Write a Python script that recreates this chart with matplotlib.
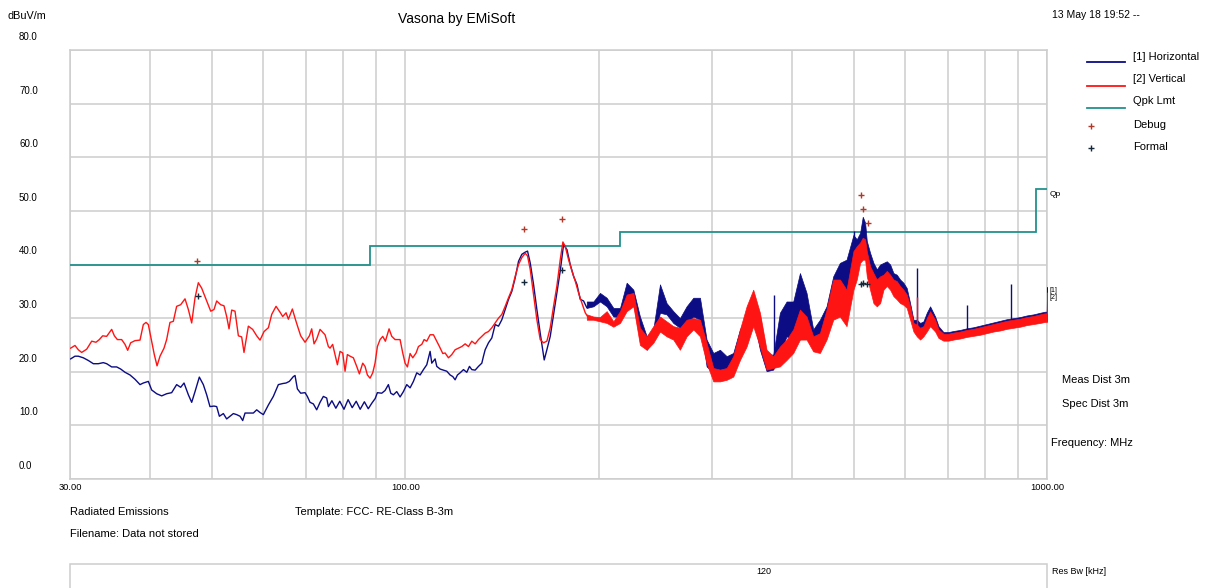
import matplotlib
matplotlib.use('Agg')
import matplotlib.pyplot as plt
from matplotlib.lines import Line2D
from matplotlib.patches import Rectangle
from matplotlib.transforms import blended_transform_factory, offset_copy

plt.rcParams['font.family'] = ['Liberation Sans', 'DejaVu Sans']

# ---------------- data ----------------
y_ticks = [0, 10, 20, 30, 40, 50, 60, 70, 80]
y_tick_labels = ['0.0', '10.0', '20.0', '30.0', '40.0', '50.0', '60.0', '70.0', '80.0']
x_grid = [30, 40, 50, 60, 70, 80, 90, 100, 200, 300, 400, 500, 600, 700, 800, 900, 1000]
x_tick_labels = {30: '30.00', 100: '100.00', 1000: '1000.00'}

# Qpk limit (FCC Class B, 3 m)
lim_edges = [30, 88, 216, 960, 1000]
lim_levels = [40.0, 43.5, 46.0, 54.0]

# [2] Vertical (red), smooth part
red_f = [30.07, 30.54, 30.91, 31.28, 31.85, 32.43, 32.93, 33.33, 33.73, 34.22,
         34.84, 35.18, 35.56, 36.11, 36.55, 36.90, 37.30, 37.88, 38.57, 39.03,
         39.41, 39.74, 40.22, 40.60, 41.00, 41.44, 42.04, 42.44, 42.95, 43.47,
         43.99, 44.63, 45.33, 45.88, 46.43, 46.99, 47.55, 48.12, 49.00, 49.71,
         50.30, 50.79, 51.52, 52.14, 52.64, 53.09, 53.60, 54.24, 54.90, 55.55,
         56.02, 56.90, 57.79, 58.63, 59.34, 60.20, 61.14, 61.88, 62.85, 63.76,
         64.37, 65.15, 65.69, 66.64, 67.28, 67.85, 68.66, 69.74, 70.84, 71.43,
         72.03, 72.72, 73.60, 74.93, 75.83,
         76.29, 77.00, 77.67, 78.33, 79.08, 79.84, 80.51, 81.18, 81.97, 82.95,
         83.95, 84.76, 85.78, 86.50, 87.23, 88.07, 88.92, 89.66, 90.42, 91.29,
         92.17, 93.05, 94.29, 95.20, 96.34, 98.09, 99.03, 99.87, 100.71, 101.68,
         102.66, 103.89, 104.77, 106.03, 106.93, 107.95, 109.25, 110.57, 111.90, 112.98,
         114.34, 115.30, 116.69, 118.09, 119.51, 120.95, 122.41, 123.89, 125.38, 126.89,
         128.42, 129.97, 131.53, 133.12, 134.72, 136.34, 137.99, 139.65, 141.33, 143.04,
         144.76, 146.50, 148.27, 150.06, 151.86, 153.69, 154.99, 156.48, 158.36, 160.27,
         162.20, 164.16, 166.13, 168.14, 170.16, 172.21, 174.29, 175.96, 177.44, 179.58,
         181.75, 183.94, 186.15, 188.39, 190.66, 192.96]
red_v = [24.4, 24.9, 24.1, 23.6, 24.2, 25.7, 25.5, 26.0, 26.7, 26.6,
         27.9, 26.7, 26.0, 26.0, 25.1, 24.0, 25.4, 25.8, 25.9, 28.8,
         29.2, 28.8, 25.7, 23.2, 21.1, 22.9, 24.4, 26.0, 29.2, 29.4,
         32.2, 32.5, 33.6, 31.6, 29.1, 33.8, 36.6, 35.6, 33.2, 31.3,
         31.6, 33.2, 32.5, 32.3, 30.3, 28.0, 31.5, 31.3, 26.7, 26.5,
         23.6, 28.5, 27.9, 26.7, 25.9, 27.5, 28.2, 30.7, 32.2, 31.1,
         30.3, 31.0, 29.8, 31.7, 30.0, 28.6, 26.7, 25.5, 26.7, 28.0,
         25.2, 26.1, 27.9, 26.9, 24.7,
         24.4, 25.1, 23.2, 21.3, 23.8, 23.5, 20.1, 23.2, 22.9, 22.6,
         21.0, 19.6, 21.6, 21.0, 19.4, 18.8, 19.8, 21.6, 24.7, 26.0,
         26.6, 25.7, 28.0, 26.6, 26.0, 26.0, 23.5, 21.6, 20.9, 23.4,
         22.6, 23.5, 24.7, 25.1, 26.0, 25.7, 26.9, 26.9, 25.7, 24.7,
         23.4, 23.5, 22.6, 23.2, 24.1, 24.4, 24.7, 25.2, 24.7, 25.7,
         25.2, 26.0, 26.6, 27.2, 27.5, 28.2, 29.1, 30.0, 30.7, 32.2,
         33.8, 35.3, 37.8, 40.0, 41.3, 42.1, 41.6, 39.1, 34.4, 29.7,
         26.0, 25.4, 25.7, 28.2, 32.2, 36.0, 40.9, 44.2, 43.4, 40.9,
         38.8, 36.9, 34.7, 32.8, 31.0, 30.0]

# [1] Horizontal (blue), smooth part
blue_f = [30.07, 30.54, 30.91, 31.47, 32.04, 32.62, 33.21, 33.81, 34.22, 34.84,
          35.47, 35.99, 36.55, 37.21, 37.88, 38.57, 39.03, 39.74, 40.22, 40.95,
          41.69, 42.44, 43.21, 43.99, 44.63, 45.17, 45.88, 46.43, 46.99, 47.72,
          48.41, 49.00, 49.58, 50.30, 50.79, 51.28, 52.02, 52.64, 53.28, 53.92,
          54.57, 55.23, 55.76, 56.23, 57.24, 57.93, 58.63, 59.34, 60.05, 61.14,
          62.24, 63.37, 64.37, 65.15, 65.92, 66.88, 67.28, 67.85, 68.66, 69.74,
          70.32, 71.00, 71.86, 72.72, 73.60, 74.48, 75.38, 75.83, 76.80, 77.90,
          79.00, 80.20, 81.40, 82.60, 83.80, 85.00, 86.30, 87.50, 88.70, 89.70,
          90.42, 91.84, 92.94, 94.06, 94.86, 95.77, 96.92, 98.09, 99.27, 100.47,
          101.68, 102.90, 104.14, 105.40, 106.67, 107.95, 109.25, 109.91, 111.23, 111.90,
          113.25, 114.61, 115.99, 117.39, 118.52, 119.51, 120.52, 121.68, 123.15, 124.63,
          125.83, 126.89, 128.42, 129.97, 131.53, 132.32, 133.12, 134.72, 136.34, 137.99,
          139.65, 141.33, 143.04, 144.76, 146.50, 148.27, 150.06, 151.86, 153.69, 154.99,
          156.48, 158.36, 160.27, 162.20, 164.55, 166.13, 168.14, 170.16, 172.21, 174.29,
          176.38, 178.51, 180.66, 182.84, 185.04, 187.27, 189.52, 191.81, 193.66]
blue_v = [22.4, 22.9, 22.9, 22.6, 22.1, 21.5, 21.5, 21.7, 21.5, 20.9,
          20.9, 20.5, 19.9, 19.4, 18.6, 17.6, 17.9, 18.2, 16.6, 15.9,
          15.5, 15.9, 16.1, 17.6, 17.1, 17.9, 15.7, 14.3, 16.3, 19.0,
          17.6, 15.7, 13.5, 13.6, 13.5, 11.7, 12.2, 11.2, 11.7, 12.2,
          12.0, 11.7, 10.9, 12.3, 12.3, 12.3, 12.9, 12.4, 12.0, 13.8,
          15.4, 17.6, 17.8, 17.9, 18.2, 19.1, 19.3, 16.8, 16.0, 16.1,
          15.4, 14.3, 14.0, 12.9, 14.3, 15.4, 15.1, 13.5, 14.6, 13.2,
          14.5, 13.0, 14.8, 13.3, 14.5, 13.0, 14.4, 13.1, 14.2, 15.0,
          16.1, 16.0, 16.5, 17.6, 16.0, 15.7, 16.3, 15.3, 16.3, 17.6,
          17.0, 18.2, 19.8, 19.4, 20.4, 21.3, 23.8, 21.6, 22.4, 21.0,
          20.5, 20.3, 20.1, 19.4, 19.1, 18.5, 19.4, 19.8, 20.4, 19.9,
          21.0, 20.4, 20.3, 21.0, 21.6, 22.9, 24.1, 25.4, 26.3, 28.8,
          28.5, 29.7, 31.6, 33.5, 35.0, 37.5, 40.6, 41.9, 42.3, 42.5,
          40.3, 36.3, 31.6, 27.2, 22.2, 24.1, 26.6, 30.7, 34.7, 38.8,
          43.7, 42.8, 40.0, 37.8, 36.3, 33.5, 33.2, 31.9, 32.8]

# dense (noisy) part above ~190 MHz : envelope of each trace
band_f = [191.7, 196.3, 201.0, 205.9, 210.9, 216.0, 221.2, 226.6, 232.0, 237.7,
          243.4, 249.3, 255.3, 261.5, 267.8, 274.3, 281.0, 287.8, 294.7, 301.9,
          309.2, 316.7, 324.3, 332.2, 340.2, 348.4, 356.9, 365.5, 374.4, 383.4,
          392.7, 402.2, 412.0, 421.9, 432.1, 442.6, 453.3, 464.3, 475.5, 487.0,
          499.2, 505.2, 511.3, 516.2, 520.6, 523.7, 529.9, 536.4, 542.9, 549.4,
          556.0, 562.7, 569.5, 576.3, 583.2, 590.2, 597.3, 604.5, 611.8, 619.2,
          626.7, 634.2, 641.8, 649.5, 657.3, 669.3, 677.4, 689.5, 702.0, 714.7,
          732.0, 749.8, 767.9, 786.5, 805.6, 825.1, 845.1, 865.5, 886.5, 908.0,
          929.9, 952.5, 975.5, 993.0, 999.0, 1000.0]
blue_hi = [33.1, 33.1, 34.7, 33.8, 31.9, 31.9, 36.6, 35.3, 30.3, 26.6,
           27.9, 36.3, 32.8, 31.3, 30.0, 32.2, 33.8, 33.8, 26.0, 23.5,
           24.1, 22.9, 23.5, 27.9, 30.3, 34.7, 30.3, 23.2, 23.2, 31.0,
           33.1, 33.1, 38.4, 34.7, 27.9, 29.7, 32.2, 37.8, 40.3, 40.9,
           45.5, 44.7, 45.9, 48.9, 47.8, 44.4, 42.2, 40.3, 39.1, 40.0,
           40.3, 40.6, 40.0, 38.4, 38.1, 37.2, 36.6, 35.6, 32.8, 29.7,
           29.7, 29.1, 29.4, 31.0, 32.2, 30.3, 28.5, 27.4, 27.4, 27.6,
           27.8, 28.1, 28.3, 28.6, 28.9, 29.2, 29.5, 29.8, 30.0, 30.2,
           30.5, 30.7, 31.0, 31.2, 31.2, 35.8]
blue_lo = [31.9, 32.2, 33.1, 32.2, 30.3, 30.2, 32.2, 32.8, 26.0, 24.1,
           26.0, 31.0, 30.7, 29.1, 28.2, 29.1, 30.3, 29.7, 21.0, 19.8,
           20.1, 20.1, 20.4, 24.1, 26.6, 30.3, 24.1, 20.1, 20.4, 23.5,
           26.6, 26.0, 30.3, 29.1, 24.4, 24.7, 27.2, 30.3, 33.5, 34.1,
           37.8, 40.3, 42.2, 43.4, 42.8, 39.7, 37.2, 36.6, 36.0, 36.6,
           37.2, 37.8, 37.2, 36.0, 35.3, 34.7, 34.4, 33.5, 31.0, 28.5,
           27.9, 27.2, 27.9, 29.1, 29.7, 28.5, 26.9, 26.0, 26.0, 26.2,
           26.4, 26.7, 26.9, 27.1, 27.4, 27.7, 27.9, 28.2, 28.4, 28.6,
           28.9, 29.1, 29.3, 29.5, 29.5, 29.5]
red_hi = [30.7, 30.3, 30.2, 31.3, 29.4, 31.3, 34.4, 34.7, 28.2, 26.6,
          28.5, 30.3, 29.4, 28.5, 28.2, 29.7, 30.0, 29.7, 25.4, 20.7,
          20.4, 20.7, 22.9, 27.9, 32.2, 35.3, 31.0, 24.1, 22.9, 24.7,
          26.0, 27.9, 31.6, 30.3, 26.6, 27.2, 31.6, 37.2, 37.2, 35.3,
          42.5, 43.4, 44.1, 45.0, 44.7, 42.5, 39.7, 38.4, 37.2, 37.8,
          38.1, 38.8, 38.1, 37.2, 36.9, 36.0, 35.3, 34.4, 32.2, 29.1,
          28.8, 28.2, 28.5, 30.0, 31.3, 29.7, 27.9, 27.1, 27.1, 27.3,
          27.5, 27.8, 28.0, 28.3, 28.6, 28.9, 29.2, 29.5, 29.7, 29.9,
          30.2, 30.4, 30.7, 30.9, 30.9, 34.8]
red_lo = [29.7, 29.7, 29.4, 29.1, 28.4, 29.1, 31.3, 32.2, 25.0, 24.1,
          25.4, 27.5, 26.6, 26.0, 24.1, 26.6, 27.9, 26.6, 21.6, 18.2,
          18.2, 18.5, 19.1, 22.2, 24.7, 28.5, 24.7, 20.4, 20.7, 21.0,
          22.2, 23.5, 26.0, 26.0, 23.8, 23.5, 26.0, 29.7, 30.3, 28.5,
          35.3, 37.2, 40.3, 40.9, 40.9, 37.8, 35.3, 32.8, 32.2, 32.8,
          35.3, 36.0, 35.3, 34.1, 33.5, 32.8, 32.5, 31.9, 29.7, 27.5,
          26.6, 26.0, 26.6, 27.5, 28.5, 27.5, 26.3, 25.8, 25.8, 26.0,
          26.2, 26.5, 26.7, 26.9, 27.2, 27.5, 27.7, 28.0, 28.2, 28.4,
          28.7, 28.9, 29.1, 29.3, 29.3, 29.3]

# isolated spikes
blue_spike_f = [375.3, 500.0, 626.7, 751.6, 878.1]
blue_spike_lo = [21.0, 38.0, 28.0, 27.0, 28.5]
blue_spike_hi = [34.4, 46.2, 39.4, 32.5, 36.3]
red_spike_f = [626.7]
red_spike_lo = [27.0]
red_spike_hi = [34.0]

# measurement markers
debug_f = [47.3, 153.1, 175.2, 513.7, 517.4, 525.5]
debug_v = [40.6, 46.6, 48.4, 52.9, 50.4, 47.8]
formal_f = [47.55, 152.9, 175.2, 513.7, 517.4, 524.0]
formal_v = [34.1, 36.8, 38.9, 36.4, 36.6, 36.4]

BLUE = '#0c0c84'
RED = '#ff1414'
TEAL = '#23918c'
GRID = '#cdcdcd'
DEBUG_C = '#b0392a'
FORMAL_C = '#14283a'

# ---------------- figure ----------------
W, H = 1206, 588
fig = plt.figure(figsize=(W / 100, H / 100), dpi=100)
fig.patch.set_facecolor('white')


def fx(px):
    return px / W


def fy(py):
    return 1 - py / H


ax = fig.add_axes([fx(70), fy(479), fx(1047) - fx(70), fy(50) - fy(479)])
ax.set_xscale('log')
ax.set_xlim(30, 1000)
ax.set_ylim(0, 80)
ax.set_xticks(x_grid)
ax.set_xticklabels([x_tick_labels.get(v, '') for v in x_grid])
ax.minorticks_off()
ax.set_yticks(y_ticks)
ax.set_yticklabels([])
ax.tick_params(axis='both', length=0)
ax.tick_params(axis='x', pad=3, labelsize=6.7)
ax.grid(True, color=GRID, linewidth=1.1)
ax.set_axisbelow(True)
for s in ax.spines.values():
    s.set_color(GRID)
    s.set_linewidth(1.1)

# y labels (offset above grid lines, left aligned)
ytr = offset_copy(blended_transform_factory(fig.transFigure, ax.transData),
                  fig=fig, x=0, y=13, units='dots')
for v, lab in zip(y_ticks, y_tick_labels):
    ax.text(fx(19), v, lab, transform=ytr, ha='left', va='center',
            fontsize=7, clip_on=False)

# limit line
ax.stairs(lim_levels, lim_edges, baseline=None, color=TEAL, linewidth=1.3, zorder=3)

# blue trace
ax.plot(blue_f, blue_v, color=BLUE, linewidth=1.0, zorder=4)
ax.fill_between(band_f, blue_lo, blue_hi, facecolor=BLUE, edgecolor=BLUE,
                linewidth=0.5, zorder=4)
ax.vlines(blue_spike_f, blue_spike_lo, blue_spike_hi, color=BLUE, linewidth=1.0, zorder=4)

# red trace
ax.plot(red_f, red_v, color=RED, linewidth=1.0, zorder=5)
ax.fill_between(band_f, red_lo, red_hi, facecolor=RED, edgecolor=RED,
                linewidth=0.5, zorder=5)
ax.vlines(red_spike_f, red_spike_lo, red_spike_hi, color=RED, linewidth=1.0, zorder=5)

# markers
ax.plot(debug_f, debug_v, linestyle='none', marker='+', markersize=5,
        markeredgewidth=1.0, color=DEBUG_C, zorder=6)
ax.plot(formal_f, formal_v, linestyle='none', marker='+', markersize=5,
        markeredgewidth=1.0, color=FORMAL_C, zorder=6)

# ---------------- texts ----------------
fig.text(fx(8), fy(16), 'dBuV/m', fontsize=7.8, ha='left', va='center')
fig.text(fx(457), fy(19), 'Vasona by EMiSoft', fontsize=10, ha='center', va='center')
fig.text(fx(1052), fy(15), '13 May 18 19:52 --', fontsize=7.5, ha='left', va='center')

# legend
leg = [('[1] Horizontal', BLUE, 57, 62),
       ('[2] Vertical', RED, 79, 86),
       ('Qpk Lmt', TEAL, 101, 108)]
for lab, c, ty, ly in leg:
    fig.add_artist(Line2D([fx(1087), fx(1125)], [fy(ly), fy(ly)], color=c, linewidth=1.3))
    fig.text(fx(1133), fy(ty), lab, fontsize=8, ha='left', va='center')
fig.add_artist(Line2D([fx(1090.5)], [fy(126)], marker='+', markersize=5,
                      markeredgewidth=1.0, color=DEBUG_C, linestyle='none'))
fig.text(fx(1133), fy(125), 'Debug', fontsize=8, ha='left', va='center')
fig.add_artist(Line2D([fx(1090.5)], [fy(148)], marker='+', markersize=5,
                      markeredgewidth=1.0, color=FORMAL_C, linestyle='none'))
fig.text(fx(1133), fy(147), 'Formal', fontsize=8, ha='left', va='center')

# right-side annotations
fig.text(fx(1050), fy(194), 'Qp', fontsize=6, ha='left', va='center')
fig.text(fx(1050), fy(290.5), '[1]', fontsize=5, ha='left', va='center')
fig.text(fx(1050), fy(297.5), '[2]', fontsize=5, ha='left', va='center')
fig.text(fx(1062), fy(380), 'Meas Dist 3m', fontsize=8, ha='left', va='center')
fig.text(fx(1062), fy(404), 'Spec Dist 3m', fontsize=8, ha='left', va='center')
fig.text(fx(1051), fy(442.5), 'Frequency: MHz', fontsize=8, ha='left', va='center')

# bottom texts
fig.text(fx(70), fy(512), 'Radiated Emissions', fontsize=8, ha='left', va='center')
fig.text(fx(70), fy(534), 'Filename: Data not stored', fontsize=8, ha='left', va='center')
fig.text(fx(295), fy(512), 'Template: FCC- RE-Class B-3m', fontsize=8, ha='left', va='center')

# resolution bandwidth box
fig.add_artist(Rectangle((fx(70), fy(600)), fx(1047) - fx(70), fy(563.5) - fy(600),
                         transform=fig.transFigure, facecolor='none',
                         edgecolor=GRID, linewidth=1.1))
fig.text(fx(764), fy(571), '120', fontsize=6.5, ha='center', va='center')
fig.text(fx(1052), fy(571), 'Res Bw [kHz]', fontsize=6.5, ha='left', va='center')

fig.savefig('out.png', dpi=100, facecolor='white')
